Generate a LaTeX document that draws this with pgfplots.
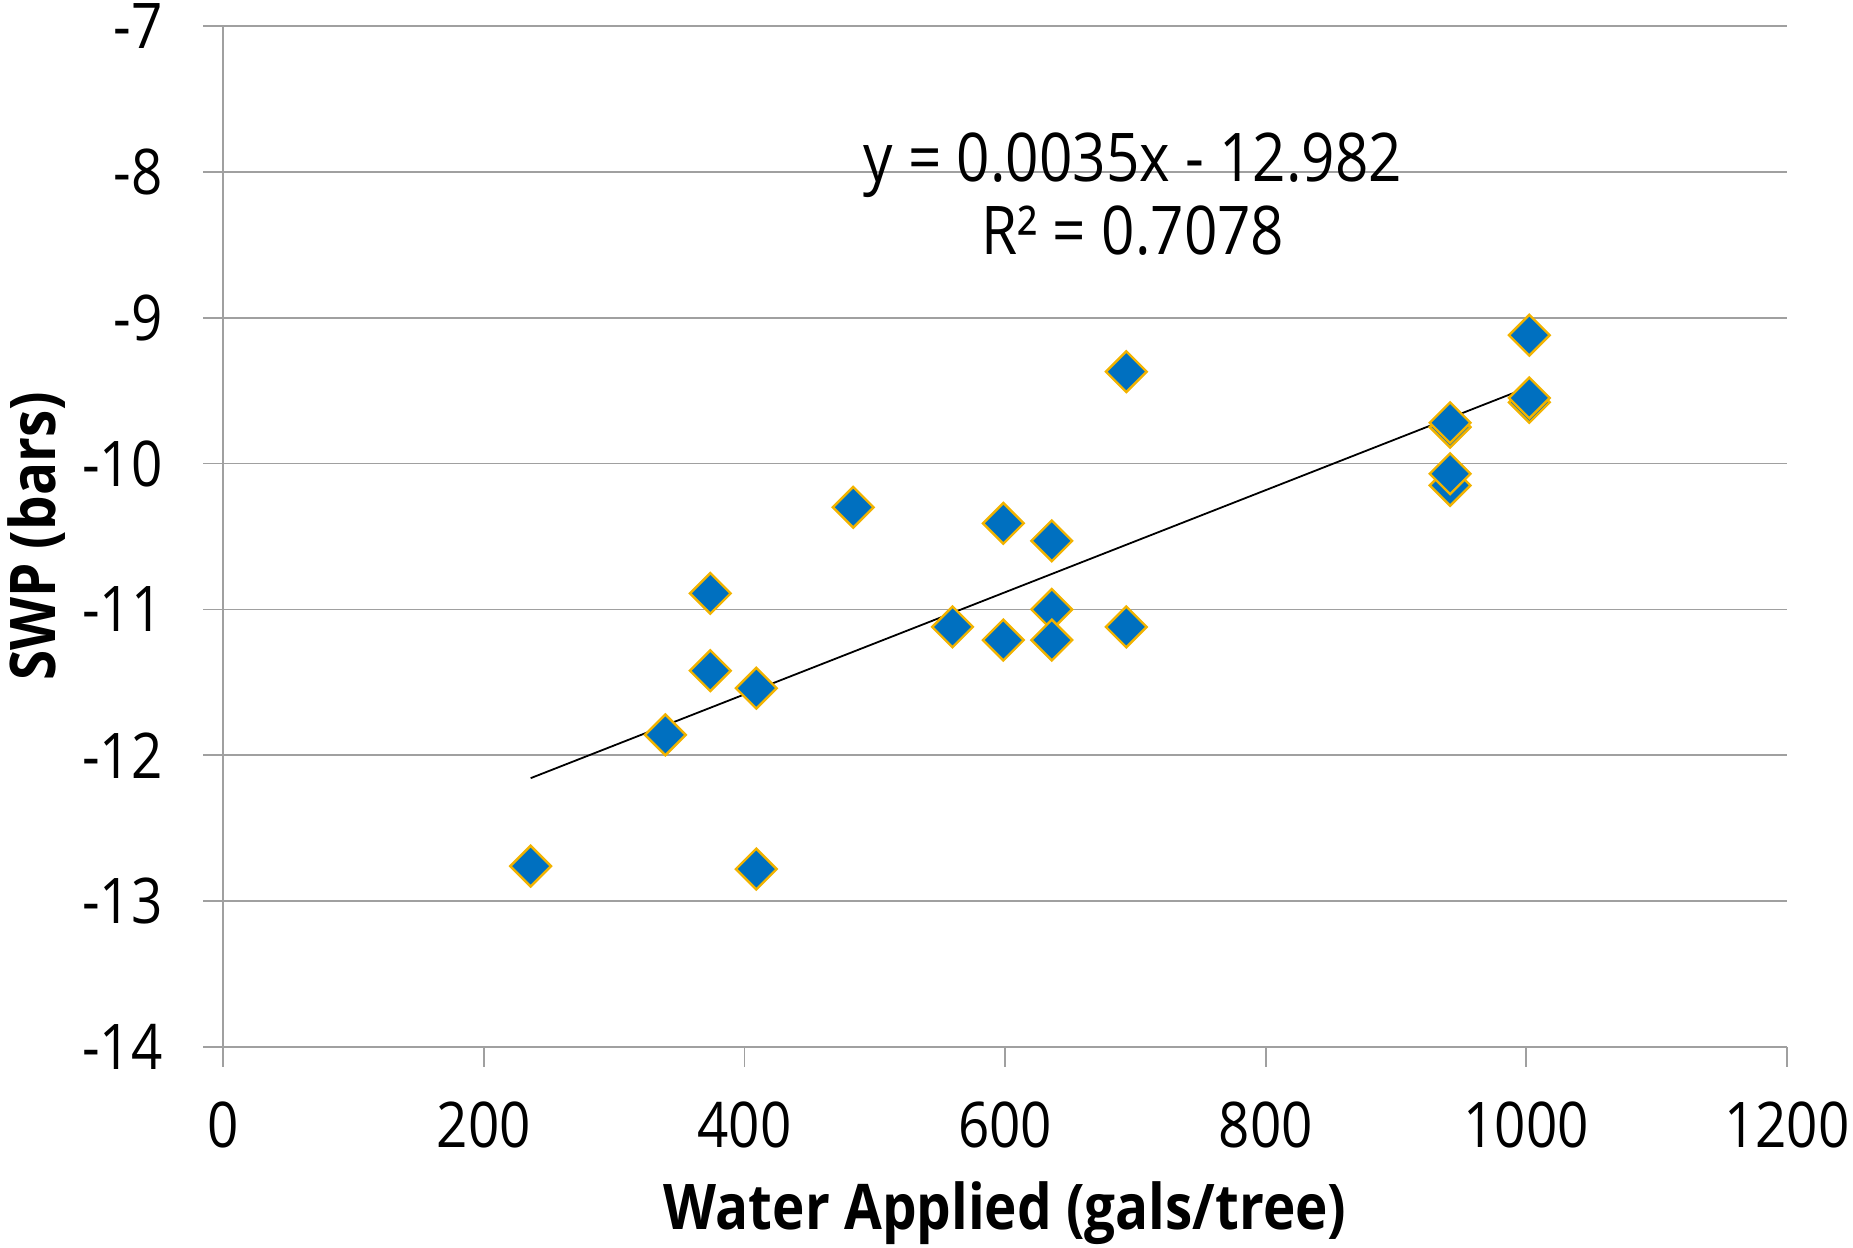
\documentclass[border=0pt]{standalone}
\usepackage{fontspec}
\setmainfont{Open Sans}[FakeStretch=0.87]
\usepackage{pgfplots}
\pgfplotsset{compat=1.18}
\definecolor{mblue}{HTML}{0070C0}
\definecolor{mgold}{HTML}{F2B300}
\definecolor{gridgray}{HTML}{A0A0A0}
\begin{document}
\begin{tikzpicture}
\begin{axis}[name=ax,
  scale only axis, width=390.875pt, height=255.25pt,
  xmin=0, xmax=1200, ymin=-14, ymax=-7,
  xtick={0,200,...,1200}, ytick={-14,-13,...,-7},
  axis x line=bottom, axis y line=left,
  axis line style={gridgray, line width=0.5pt, -},
  ymajorgrids, major grid style={gridgray, line width=0.45pt},
  tick align=outside, major tick length=5pt,
  tick style={gridgray, line width=0.45pt},
  /pgf/number format/assume math mode=true,
  /pgf/number format/1000 sep={},
  ticklabel style={font=\fontsize{15.75}{18}\selectfont, inner sep=0pt},
  xticklabel style={anchor=base, yshift=-20.25pt},
  yticklabel style={anchor=east, xshift=-10pt},
  xlabel={\bfseries Water Applied (gals/tree)},
  ylabel={\bfseries SWP (bars)},
  label style={font=\fontsize{15.75}{18}\selectfont},
  xlabel style={at={(axis description cs:0.5,-0.1792)}, anchor=base},
  ylabel style={at={(axis description cs:-0.1075,0.5)}, anchor=base, rotate=0},
  clip=false,
]
\addplot[only marks, mark=square*, mark size=3.6pt,
  mark options={rotate=45, fill=mblue, draw=mgold, line width=0.6pt}]
  coordinates {
  (235.8,-12.76) (339.2,-11.86) (373.7,-10.89) (373.7,-11.42)
  (409,-11.54) (409,-12.78) (483.4,-10.30) (559.6,-11.12)
  (598.6,-10.41) (598.6,-11.21) (635.8,-10.53) (635.8,-11.00)
  (635.8,-11.21) (693,-9.37) (693,-11.12)
  (941.5,-10.15) (941.5,-10.07) (941.5,-9.75) (941.5,-9.72)
  (1002.3,-9.58) (1002.3,-9.55) (1002.3,-9.12)
  };
\addplot[black, line width=0.45pt] coordinates {(235.8,-12.157) (1002.3,-9.474)};
\node[anchor=base, font=\fontsize{16.8}{19}\selectfont] at (axis cs:698,-8.0675) {y = 0.0035x - 12.982};
\node[anchor=base, font=\fontsize{16.8}{19}\selectfont] at (axis cs:698,-8.570) {R² = 0.7078};
\end{axis}
\pgfresetboundingbox
\path[use as bounding box] ([shift={(-55.85pt,-50.25pt)}]ax.south west) rectangle ++(463.25pt,312pt);
\end{tikzpicture}
\end{document}
